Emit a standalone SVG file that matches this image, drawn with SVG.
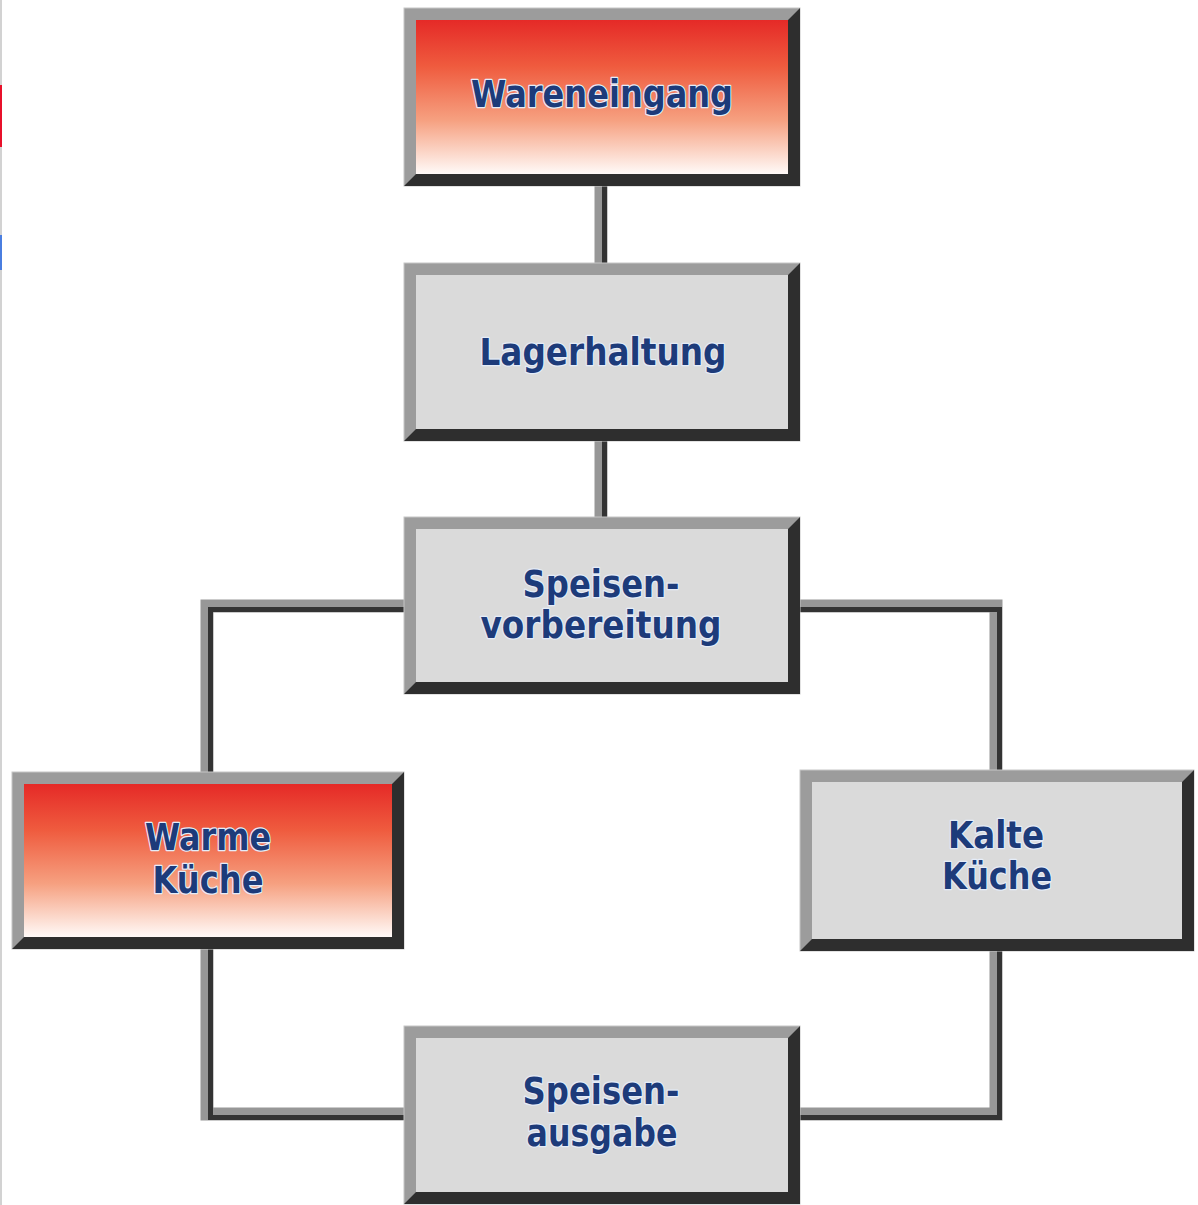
<svg xmlns="http://www.w3.org/2000/svg" width="1198" height="1205" viewBox="0 0 1198 1205">
<defs>
<linearGradient id="redfill" x1="0" y1="0" x2="0" y2="1">
<stop offset="0" stop-color="#e52a27"/>
<stop offset="0.3" stop-color="#ef5b3e"/>
<stop offset="0.65" stop-color="#f6a080"/>
<stop offset="1" stop-color="#fffaf8"/>
</linearGradient>
<style>
.frame{fill:#9c9c9c;stroke:#c6c6c6;stroke-width:1}
.shade{fill:#2e2e2e}
.grey{fill:#dadada}
.red{fill:url(#redfill)}
.lbl{font-family:"DejaVu Sans","Liberation Sans",sans-serif;font-weight:bold;font-size:37px;fill:#1d3b7a;text-anchor:middle;stroke:#e4ecf8;stroke-width:2.5;paint-order:stroke;stroke-linejoin:round}
.cg{fill:none;stroke:#979797;stroke-width:13}
.cd{fill:none;stroke:#333333;stroke-width:5}
</style>
</defs>
<rect x="0" y="0" width="1198" height="1205" fill="#ffffff"/>
<g id="edge-strip">
<rect x="0" y="0" width="2" height="1205" fill="#d2d2d2"/>
<rect x="0" y="85" width="2" height="62" fill="#e8102a"/>
<rect x="0" y="235" width="2" height="35" fill="#4a7ee0"/>
</g>
<g id="connectors">
<path class="cg" d="M601,180 V270"/>
<path class="cg" d="M601,435 V523"/>
<path class="cg" d="M410,606 H207 V778"/>
<path class="cg" d="M795,606 H996 V776"/>
<path class="cg" d="M207,943 V1114 H410"/>
<path class="cg" d="M996,945 V1114 H795"/>
<g transform="translate(3.5,3.5)">
<path class="cd" d="M601,180 V262"/>
<path class="cd" d="M601,435 V515"/>
<path class="cd" d="M405,606 H207 V770"/>
<path class="cd" d="M795,606 H996 V768"/>
<path class="cd" d="M207,943 V1114 H402"/>
<path class="cd" d="M996,945 V1114 H795"/>
</g>
</g>
<g id="wareneingang">
<rect class="frame" x="404" y="8" width="396" height="178"/>
<polygon class="shade" points="800,8 800,186 404,186 416,174 788,174 788,20"/>
<rect class="red" x="416" y="20" width="372" height="154"/>
<text class="lbl" x="602" y="107" textLength="262" lengthAdjust="spacingAndGlyphs">Wareneingang</text>
</g>
<g id="lagerhaltung">
<rect class="frame" x="404" y="263" width="396" height="178"/>
<polygon class="shade" points="800,263 800,441 404,441 416,429 788,429 788,275"/>
<rect class="grey" x="416" y="275" width="372" height="154"/>
<text class="lbl" x="603" y="365" textLength="247" lengthAdjust="spacingAndGlyphs">Lagerhaltung</text>
</g>
<g id="speisenvorbereitung">
<rect class="frame" x="404" y="517" width="396" height="177"/>
<polygon class="shade" points="800,517 800,694 404,694 416,682 788,682 788,529"/>
<rect class="grey" x="416" y="529" width="372" height="153"/>
<text class="lbl" x="601" y="597" textLength="157" lengthAdjust="spacingAndGlyphs">Speisen-</text>
<text class="lbl" x="601" y="638" textLength="241" lengthAdjust="spacingAndGlyphs">vorbereitung</text>
</g>
<g id="warme-kueche">
<rect class="frame" x="12" y="772" width="392" height="177"/>
<polygon class="shade" points="404,772 404,949 12,949 24,937 392,937 392,784"/>
<rect class="red" x="24" y="784" width="368" height="153"/>
<text class="lbl" x="208" y="850" textLength="126" lengthAdjust="spacingAndGlyphs">Warme</text>
<text class="lbl" x="208" y="893" textLength="111" lengthAdjust="spacingAndGlyphs">Küche</text>
</g>
<g id="kalte-kueche">
<rect class="frame" x="800" y="770" width="394" height="181"/>
<polygon class="shade" points="1194,770 1194,951 800,951 812,939 1182,939 1182,782"/>
<rect class="grey" x="812" y="782" width="370" height="157"/>
<text class="lbl" x="996" y="848" textLength="96" lengthAdjust="spacingAndGlyphs">Kalte</text>
<text class="lbl" x="997" y="889" textLength="110" lengthAdjust="spacingAndGlyphs">Küche</text>
</g>
<g id="speisenausgabe">
<rect class="frame" x="404" y="1026" width="396" height="178"/>
<polygon class="shade" points="800,1026 800,1204 404,1204 416,1192 788,1192 788,1038"/>
<rect class="grey" x="416" y="1038" width="372" height="154"/>
<text class="lbl" x="601" y="1104" textLength="157" lengthAdjust="spacingAndGlyphs">Speisen-</text>
<text class="lbl" x="602" y="1146" textLength="151" lengthAdjust="spacingAndGlyphs">ausgabe</text>
</g>
</svg>
